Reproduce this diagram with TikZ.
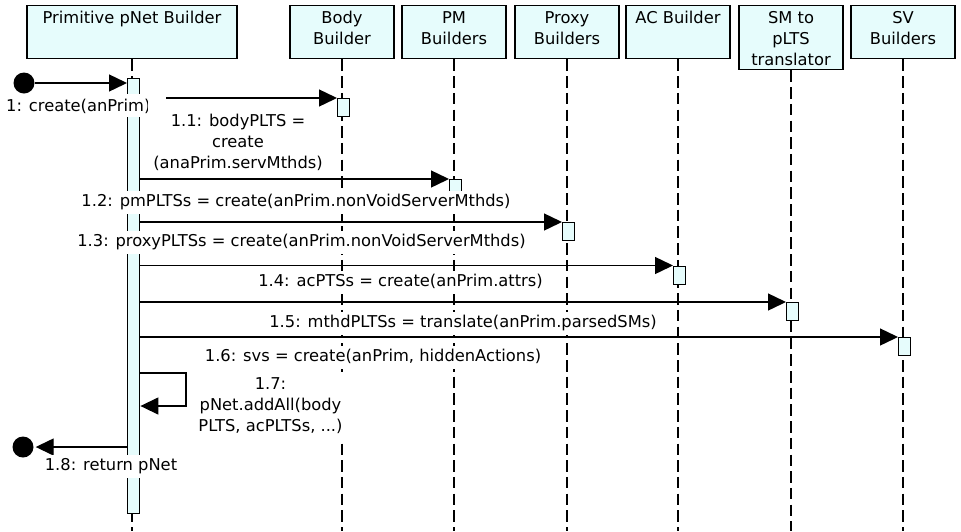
\documentclass[tikz,border=0pt]{standalone}
\usepackage{fontspec}
\setmainfont{DejaVu Sans}
\usetikzlibrary{arrows.meta}
\definecolor{boxfill}{RGB}{230,252,252}
\begin{document}
\begin{tikzpicture}[x=1pt,y=-1pt,
  txt/.style={font=\fontsize{16.3}{21}\selectfont, align=center, inner xsep=3pt, inner ysep=1pt},
  headbox/.style={draw, line width=1.4pt, fill=boxfill, inner sep=0pt, anchor=north,
                  minimum width=104pt, minimum height=53pt},
  headtext/.style={txt, anchor=north, inner sep=0pt},
  lifeline/.style={line width=1.4pt, dash pattern=on 11.5pt off 5.2pt},
  actbar/.style={draw, line width=1.4pt, fill=boxfill, inner sep=0pt, anchor=north west,
                 minimum width=12pt, minimum height=18pt},
  msg/.style={line width=1.4pt, -{Triangle[length=18pt,width=17pt]}},
  msglabel/.style={txt, fill=white, anchor=north},
  dot/.style={circle, fill=black, inner sep=0pt, minimum size=21pt}
]
\useasboundingbox (0,0) rectangle (961,531);
\coordinate (bottom) at (0,531);

% lifeline heads
\node[headbox, minimum width=210pt] (hprim) at (132,5) {};
\node[headbox] (hbody)  at (342,5) {};
\node[headbox] (hpm)    at (454,5) {};
\node[headbox] (hproxy) at (567,5) {};
\node[headbox] (hac)    at (678,5) {};
\node[headbox, minimum height=64pt] (hsm) at (791,5) {};
\node[headbox] (hsv)    at (903,5) {};

\node[headtext] (tprim)  at ([yshift=-3.6pt]hprim.north)  {\strut Primitive pNet Builder};
\node[headtext] (tbody)  at ([yshift=-3.6pt]hbody.north)  {\strut Body\\Builder};
\node[headtext] (tpm)    at ([yshift=-3.6pt]hpm.north)    {\strut PM\\Builders};
\node[headtext] (tproxy) at ([yshift=-3.6pt]hproxy.north) {\strut Proxy\\Builders};
\node[headtext] (tac)    at ([yshift=-3.6pt]hac.north)    {\strut AC Builder};
\node[headtext] (tsm)    at ([yshift=-3.6pt]hsm.north)    {\strut SM to\\pLTS\\translator};
\node[headtext] (tsv)    at ([yshift=-3.6pt]hsv.north)    {\strut SV\\Builders};

% lifelines
\foreach \h in {hprim,hbody,hpm,hproxy,hac,hsm,hsv}
  \draw[lifeline] (\h.south) -- (\h.south |- bottom);

% activation bars
\node[actbar, minimum height=435pt] (pact) at (127,78) {};
\node[actbar] (bact)  at (337,98) {};
\node[actbar] (pmact) at (449,179) {};
\node[actbar] (pxact) at (562,222) {};
\node[actbar] (acact) at (673,265.5) {};
\node[actbar] (smact) at (786,302) {};
\node[actbar] (svact) at (898,337) {};

% start and end points
\node[dot] (start)  at (24,83) {};
\node[dot] (finish) at (23,447) {};

% messages
\draw[msg] (start) -- (start -| pact.west);
\draw[msg] (pact.east |- bact.north)  -- (bact.north west);
\draw[msg] (pact.east |- pmact.north) -- (pmact.north west);
\draw[msg] (pact.east |- pxact.north) -- (pxact.north west);
\draw[msg] (pact.east |- acact.north) -- (acact.north west);
\draw[msg] (pact.east |- smact.north) -- (smact.north west);
\draw[msg] (pact.east |- svact.north) -- (svact.north west);
\draw[msg] (pact.east |- 0,373) -- (186,373) -- (186,406) -- (pact.east |- 0,406);
\draw[msg, shorten >=2pt] (pact.west |- finish) -- (finish);

% message labels
\node[fill=white, inner sep=0pt, minimum width=166pt, minimum height=23pt, anchor=north west] (l1bg) at (0,93.5) {};
\begin{scope}
  \clip (l1bg.north west) rectangle ([xshift=147pt]l1bg.south west);
  \node[txt, anchor=base west, inner sep=0pt] (l1) at (6,111) {1: create(anPrim)};
\end{scope}
\node[msglabel] (l11) at (238,110.3) {\strut 1.1: bodyPLTS =\\create\\(anaPrim.servMthds)\strut};
\node[msglabel] (l12) at (296,191)   {\strut 1.2: pmPLTSs = create(anPrim.nonVoidServerMthds)\strut};
\node[msglabel] (l13) at (301.5,230.3) {\strut 1.3: proxyPLTSs = create(anPrim.nonVoidServerMthds)\strut};
\node[msglabel] (l14) at (400.5,270.3) {\strut 1.4: acPTSs = create(anPrim.attrs)\strut};
\node[msglabel] (l15) at (463,311.3) {\strut 1.5: mthdPLTSs = translate(anPrim.parsedSMs)\strut};
\node[msglabel] (l16) at (373,345.8) {\strut 1.6: svs = create(anPrim, hiddenActions)\strut};
\node[msglabel] (l17) at (270.5,373.3) {\strut 1.7:\\pNet.addAll(body\\PLTS, acPLTSs, ...)\strut};
\node[msglabel] (l18) at (111,454.8) {\strut 1.8: return pNet\strut};
\end{tikzpicture}
\end{document}
